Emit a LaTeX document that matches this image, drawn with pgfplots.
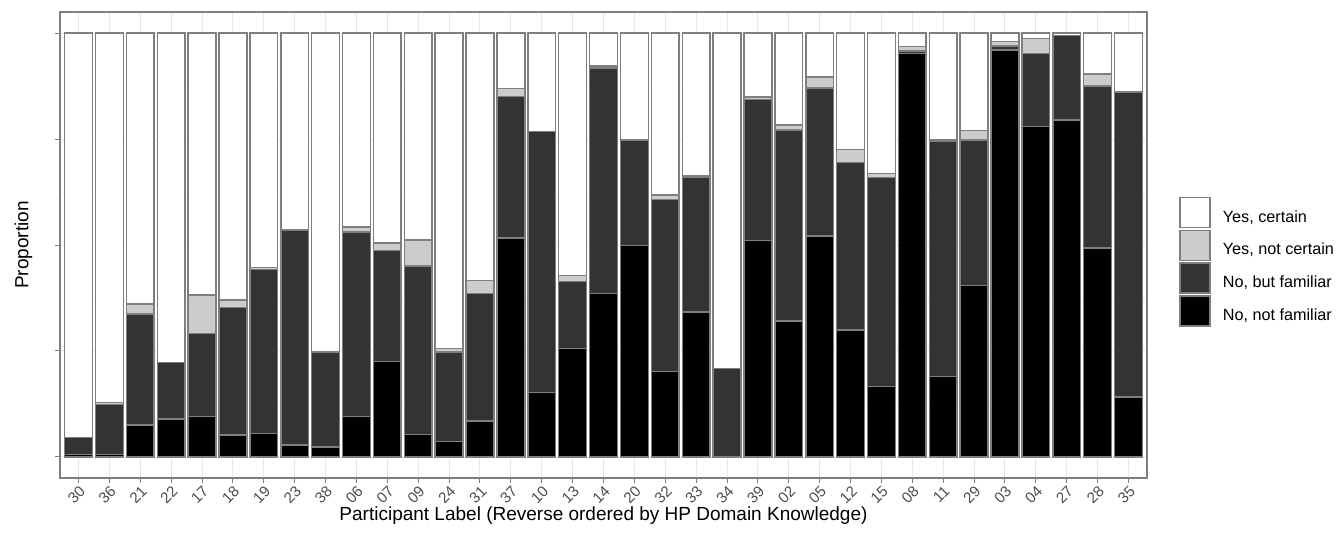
\documentclass[border=0pt]{standalone}
\usepackage{pgfplots}
\pgfplotsset{compat=1.18}
\usepackage{pgfplotstable}
\usepackage{fontspec}
\setmainfont{Liberation Sans}
\definecolor{outl}{HTML}{7F7F7F}
\definecolor{darkf}{HTML}{333333}
\definecolor{lightf}{HTML}{CCCCCC}
\definecolor{tlab}{HTML}{4D4D4D}
\pgfplotstableread{
x nf bf ync yc
0 0.005 0.041 0.000 0.954
1 0.005 0.118 0.005 0.872
2 0.075 0.262 0.024 0.639
3 0.089 0.134 0.000 0.777
4 0.095 0.196 0.091 0.618
5 0.051 0.302 0.017 0.630
6 0.055 0.387 0.005 0.553
7 0.028 0.507 0.000 0.465
8 0.023 0.224 0.000 0.753
9 0.095 0.436 0.011 0.458
10 0.225 0.262 0.018 0.495
11 0.053 0.398 0.061 0.488
12 0.036 0.211 0.009 0.744
13 0.084 0.302 0.030 0.584
14 0.516 0.335 0.018 0.131
15 0.152 0.616 0.000 0.232
16 0.256 0.158 0.014 0.572
17 0.386 0.532 0.005 0.077
18 0.499 0.249 0.000 0.252
19 0.201 0.407 0.010 0.382
20 0.342 0.317 0.004 0.337
21 0.000 0.209 0.000 0.791
22 0.511 0.332 0.006 0.151
23 0.321 0.451 0.011 0.217
24 0.521 0.350 0.025 0.104
25 0.299 0.396 0.030 0.275
26 0.166 0.493 0.010 0.331
27 0.952 0.006 0.010 0.032
28 0.190 0.554 0.004 0.252
29 0.404 0.344 0.022 0.230
30 0.960 0.010 0.010 0.020
31 0.780 0.172 0.036 0.012
32 0.795 0.199 0.000 0.006
33 0.493 0.382 0.029 0.096
34 0.141 0.720 0.000 0.139
}\data
\begin{document}
\begin{tikzpicture}
\useasboundingbox (-30pt,-32.5pt) rectangle (640pt,239pt);
\begin{axis}[
  scale only axis,
  width=543.5pt, height=233pt,
  ybar stacked, bar width=0.9,
  xmin=-0.6, xmax=34.6,
  ymin=-0.05, ymax=1.05,
  xtick={0,...,34},
  xticklabels={30,36,21,22,17,18,19,23,38,06,07,09,24,31,37,10,13,14,20,32,33,34,39,02,05,12,15,08,11,29,03,04,27,28,35},
  ytick={0,0.25,0.5,0.75,1},
  yticklabels={},
  minor ytick={0.125,0.375,0.625,0.875},
  xtick pos=bottom, ytick pos=left,
  tick align=outside,
  major tick length=2.5pt, minor tick length=0pt,
  tick style={outl, line width=0.5pt},
  axis line style={outl, line width=0.7pt},
  xmajorgrids, ymajorgrids, yminorgrids,
  major grid style={black!9, line width=0.5pt},
  minor grid style={black!5, line width=0.4pt},
  xticklabel style={rotate=45, anchor=north east, font=\fontsize{7.6}{8.5}\selectfont, text=tlab, inner sep=0.6pt},
  xlabel={Participant Label (Reverse ordered by HP Domain Knowledge)},
  ylabel={Proportion},
  label style={font=\fontsize{9.5}{11}\selectfont},
  xlabel style={yshift=3.5pt},
  ylabel style={yshift=1pt},
  legend style={at={(1,0.464)}, anchor=west, xshift=16pt, draw=none, fill=none,
    font=\fontsize{8.1}{9.5}\selectfont, row sep=0.6pt, inner sep=0pt,
    nodes={inner sep=1pt}},
  legend cell align=left,
  reverse legend,
  legend image code/.code={\draw[#1, line width=0.75pt] (0pt,-5pt) rectangle (15pt,10pt); \path (20pt,0pt);},
  every axis plot/.append style={draw=outl, line width=0.75pt},
]
\addplot[fill=black] table[x=x,y=nf]{\data};
\addplot[fill=darkf] table[x=x,y=bf]{\data};
\addplot[fill=lightf] table[x=x,y=ync]{\data};
\addplot[fill=white] table[x=x,y=yc]{\data};
\legend{{No, not familiar}, {No, but familiar}, {Yes, not certain}, {Yes, certain}}
\end{axis}
\end{tikzpicture}
\end{document}
